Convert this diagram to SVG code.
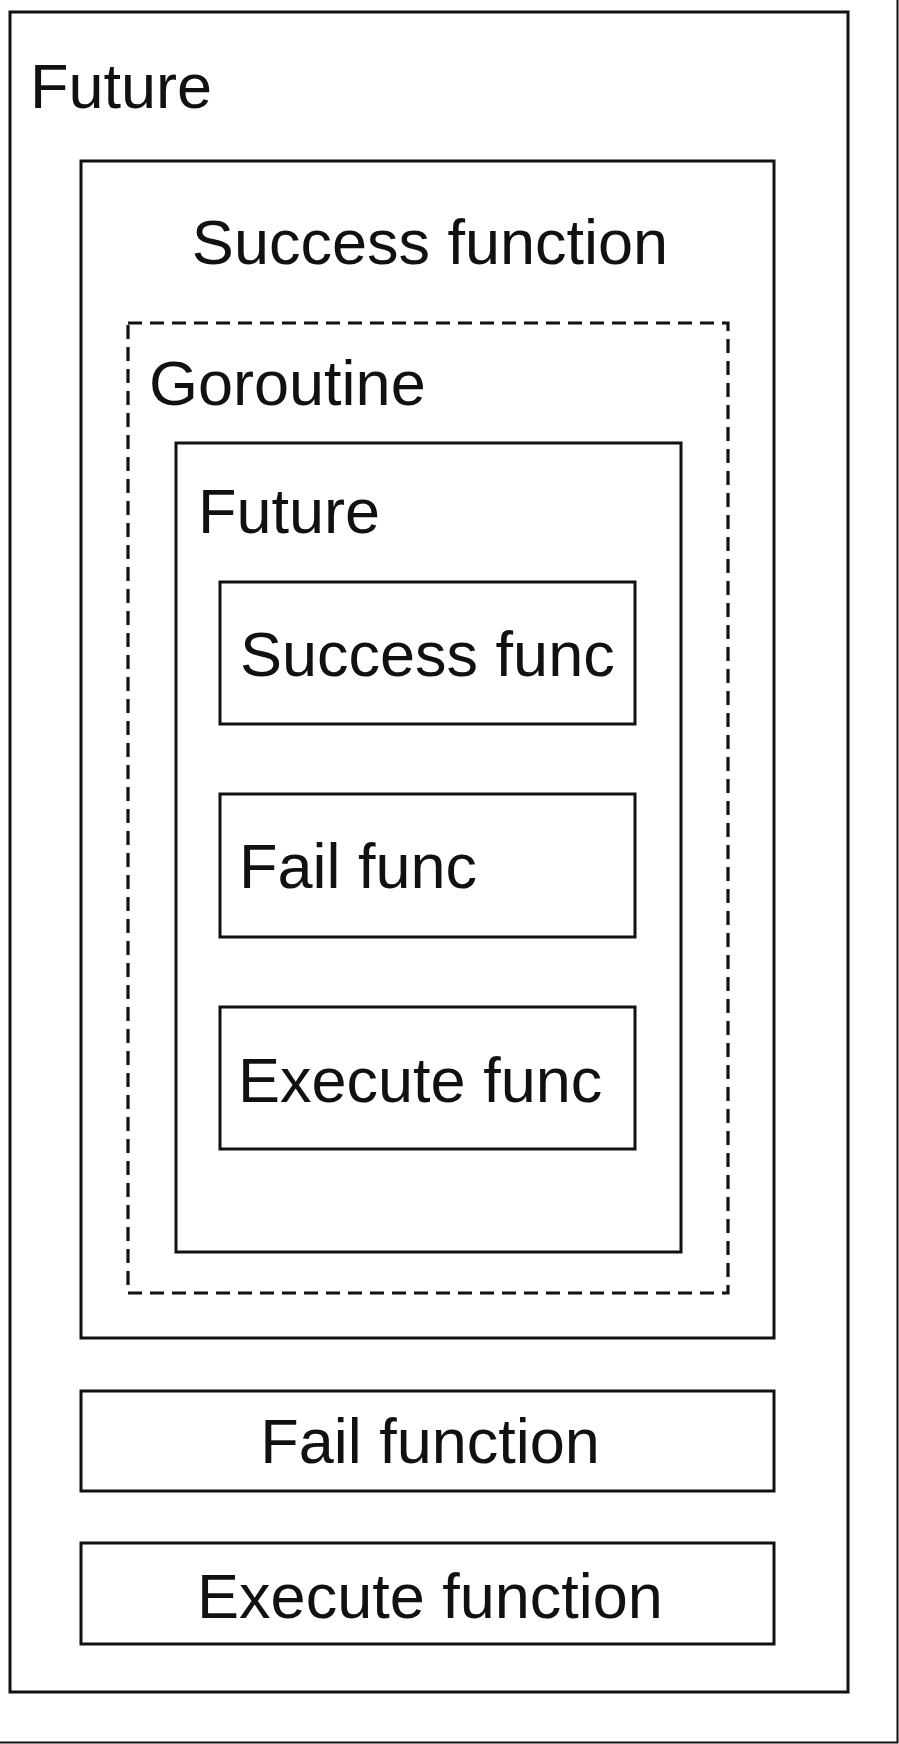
<svg xmlns="http://www.w3.org/2000/svg" width="899" height="1744" viewBox="0 0 899 1744">
<style>
.box{fill:none;stroke:#111;stroke-width:3}
.dash{fill:none;stroke:#111;stroke-width:3.2;stroke-dasharray:14 8}
.t{font-family:"Liberation Sans",Arial,sans-serif;font-size:63px;fill:#111}
.c{text-anchor:middle}
</style>
<rect width="899" height="1744" fill="#fff"/>
<path d="M897.5,0 V1742.5 H0" fill="none" stroke="#111" stroke-width="2"/>
<g id="future-outer">
<rect class="box" x="10" y="12" width="838" height="1680"/>
<text class="t" x="30" y="108">Future</text>
</g>
<g id="success-function">
<rect class="box" x="81" y="161" width="693" height="1177"/>
<text class="t c" x="430" y="264">Success function</text>
</g>
<g id="goroutine">
<rect class="dash" x="128" y="323" width="600" height="970"/>
<text class="t" x="149" y="405">Goroutine</text>
</g>
<g id="future-inner">
<rect class="box" x="176" y="443" width="505" height="809"/>
<text class="t" x="198" y="533">Future</text>
</g>
<g id="success-func">
<rect class="box" x="220" y="582" width="415" height="142"/>
<text class="t" x="240" y="676">Success func</text>
</g>
<g id="fail-func">
<rect class="box" x="220" y="794" width="415" height="143"/>
<text class="t" x="239" y="888">Fail func</text>
</g>
<g id="execute-func">
<rect class="box" x="220" y="1007" width="415" height="142"/>
<text class="t" x="238" y="1102">Execute func</text>
</g>
<g id="fail-function">
<rect class="box" x="81" y="1391" width="693" height="100"/>
<text class="t c" x="430" y="1463">Fail function</text>
</g>
<g id="execute-function">
<rect class="box" x="81" y="1543" width="693" height="101"/>
<text class="t c" x="430" y="1618">Execute function</text>
</g>
<g id="connectors"></g>
</svg>
